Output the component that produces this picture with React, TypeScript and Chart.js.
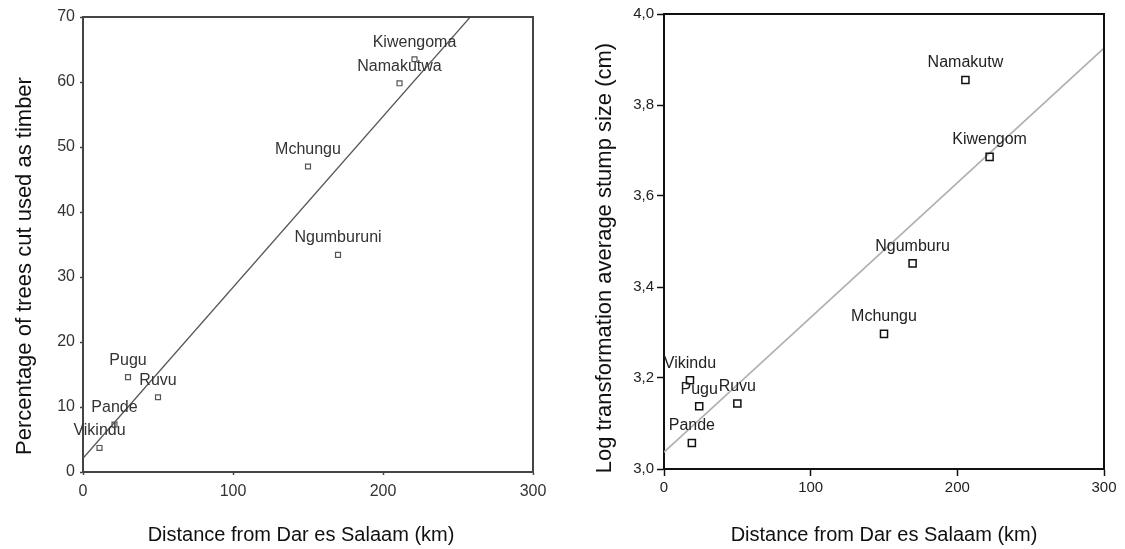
import React, { useEffect, useRef } from 'react';
import { Chart, registerables } from 'chart.js';

Chart.register(...registerables);

const FONT = '"Liberation Sans", Arial, Helvetica, sans-serif';

// ---------- Left chart data ----------
const leftSites = ['Vikindu', 'Pande', 'Pugu', 'Ruvu', 'Mchungu', 'Ngumburuni', 'Namakutwa', 'Kiwengoma'];
const leftDistance = [11, 21, 30, 50, 150, 170, 211, 221];
const leftTimberPct = [3.7, 7.3, 14.6, 11.5, 47, 33.4, 59.8, 63.5];
const leftFitX = [0, 300];
const leftFitY = [2.1, 81.0];
const leftYTicks = [0, 10, 20, 30, 40, 50, 60, 70];
const leftXTicks = [0, 100, 200, 300];
const leftXTitle = 'Distance from Dar es Salaam (km)';
const leftYTitle = 'Percentage of trees cut used as timber';

// ---------- Right chart data ----------
const rightSites = ['Vikindu', 'Pande', 'Pugu', 'Ruvu', 'Mchungu', 'Ngumburu', 'Namakutw', 'Kiwengom'];
const rightDistance = [17.7, 19, 24, 50, 150, 169.5, 205.5, 222];
const rightLogStump = [3.195, 3.057, 3.138, 3.144, 3.297, 3.452, 3.855, 3.686];
const rightFitX = [0, 300];
const rightFitY = [3.037, 3.925];
const rightYTicks = [3.0, 3.2, 3.4, 3.6, 3.8, 4.0];
const rightYTickLabels = ['3,0', '3,2', '3,4', '3,6', '3,8', '4,0'];
const rightXTicks = [0, 100, 200, 300];
const rightXTitle = 'Distance from Dar es Salaam (km)';
const rightYTitle = 'Log transformation average stump size (cm)';

type TitleItem = { text: string; x: number; y: number; rot: number; size: number };

function makePointLabels(labels: string[], font: string, color: string, offset: number) {
  return {
    id: 'pointLabels',
    afterDatasetsDraw(chart: any) {
      const meta = chart.getDatasetMeta(0);
      const ctx = chart.ctx;
      ctx.save();
      ctx.font = font;
      ctx.fillStyle = color;
      ctx.textAlign = 'center';
      ctx.textBaseline = 'middle';
      meta.data.forEach((el: any, i: number) => {
        ctx.fillText(labels[i], el.x, el.y - offset);
      });
      ctx.restore();
    },
  };
}

function makeFrame(color: string, width: number) {
  return {
    id: 'frame',
    afterDraw(chart: any) {
      const { left, top, right, bottom } = chart.chartArea;
      const ctx = chart.ctx;
      ctx.save();
      ctx.strokeStyle = color;
      ctx.lineWidth = width;
      ctx.beginPath();
      ctx.moveTo(left, top);
      ctx.lineTo(right, top);
      ctx.lineTo(right, bottom);
      ctx.stroke();
      ctx.restore();
    },
  };
}

function makeTitles(items: TitleItem[], color: string) {
  return {
    id: 'axisTitles',
    afterDraw(chart: any) {
      const ctx = chart.ctx;
      items.forEach((it) => {
        ctx.save();
        ctx.translate(it.x, it.y);
        ctx.rotate(it.rot);
        ctx.font = `${it.size}px ${FONT}`;
        ctx.fillStyle = color;
        ctx.textAlign = 'center';
        ctx.textBaseline = 'middle';
        ctx.fillText(it.text, 0, 0);
        ctx.restore();
      });
    },
  };
}

function buildConfig(p: {
  sites: string[];
  xs: number[];
  ys: number[];
  fitX: number[];
  fitY: number[];
  xTicks: number[];
  yTicks: number[];
  yTickLabels: string[];
  yMin: number;
  yMax: number;
  axisColor: string;
  tickColor: string;
  lineColor: string;
  lineWidth: number;
  pointColor: string;
  pointRadius: number;
  pointBorder: number;
  yWidth: number;
  xHeight: number;
  padTop: number;
  padRight: number;
  tickLen: number;
  xPad: number;
  yPad: number;
  tickFont: number;
  labelFont: string;
  labelColor: string;
  titles: TitleItem[];
}): any {
  return {
    type: 'scatter',
    data: {
      datasets: [
        {
          type: 'scatter',
          data: p.xs.map((x, i) => ({ x, y: p.ys[i] })),
          pointStyle: 'rect',
          pointRadius: p.pointRadius,
          backgroundColor: 'rgba(255,255,255,0)',
          borderColor: p.pointColor,
          borderWidth: p.pointBorder,
        },
        {
          type: 'line',
          data: p.fitX.map((x, i) => ({ x, y: p.fitY[i] })),
          borderColor: p.lineColor,
          borderWidth: p.lineWidth,
          pointRadius: 0,
          fill: false,
          tension: 0,
        },
      ],
    },
    options: {
      animation: false,
      responsive: false,
      maintainAspectRatio: false,
      events: [],
      layout: { padding: { left: 0, top: p.padTop, right: p.padRight, bottom: 0 } },
      plugins: { legend: { display: false }, tooltip: { enabled: false } },
      scales: {
        x: {
          type: 'linear',
          min: 0,
          max: 300,
          afterBuildTicks: (s: any) => {
            s.ticks = p.xTicks.map((v) => ({ value: v }));
          },
          afterFit: (s: any) => {
            s.height = p.xHeight;
          },
          ticks: {
            font: { family: FONT, size: p.tickFont },
            color: p.tickColor,
            padding: p.xPad,
            maxRotation: 0,
            callback: (v: any) => String(v),
          },
          grid: { drawOnChartArea: false, tickLength: p.tickLen, color: p.axisColor, tickWidth: 1.5 },
          border: { color: p.axisColor, width: 2 },
        },
        y: {
          type: 'linear',
          min: p.yMin,
          max: p.yMax,
          afterBuildTicks: (s: any) => {
            s.ticks = p.yTicks.map((v) => ({ value: v }));
          },
          afterFit: (s: any) => {
            s.width = p.yWidth;
          },
          ticks: {
            font: { family: FONT, size: p.tickFont },
            color: p.tickColor,
            padding: p.yPad,
            callback: (_v: any, i: number) => p.yTickLabels[i],
          },
          grid: { drawOnChartArea: false, tickLength: p.tickLen, color: p.axisColor, tickWidth: 1.5 },
          border: { color: p.axisColor, width: 2 },
        },
      },
    },
    plugins: [
      makeFrame(p.axisColor, 2),
      makePointLabels(p.sites, p.labelFont, p.labelColor, 17),
      makeTitles(p.titles, '#111'),
    ],
  };
}

function ChartCanvas({ config, width, height, left }: { config: any; width: number; height: number; left: number }) {
  const ref = useRef<HTMLCanvasElement | null>(null);
  useEffect(() => {
    if (!ref.current) return;
    const chart = new Chart(ref.current, config);
    return () => chart.destroy();
  }, []);
  return (
    <canvas
      ref={ref}
      width={width}
      height={height}
      style={{ position: 'absolute', left, top: 0, width, height }}
    />
  );
}

export default function App() {
  const leftConfig = buildConfig({
    sites: leftSites,
    xs: leftDistance,
    ys: leftTimberPct,
    fitX: leftFitX,
    fitY: leftFitY,
    xTicks: leftXTicks,
    yTicks: leftYTicks,
    yTickLabels: leftYTicks.map((v) => String(v)),
    yMin: 0,
    yMax: 70,
    axisColor: '#444',
    tickColor: '#333',
    lineColor: '#555',
    lineWidth: 1.3,
    pointColor: '#555',
    pointRadius: 3.5,
    pointBorder: 1.2,
    yWidth: 83,
    xHeight: 77,
    padTop: 17,
    padRight: 29,
    tickLen: 3,
    xPad: 7,
    yPad: 5,
    tickFont: 16,
    labelFont: `16px ${FONT}`,
    labelColor: '#333',
    titles: [
      { text: leftYTitle, x: 25, y: 266, rot: -Math.PI / 2, size: 22 },
      { text: leftXTitle, x: 301, y: 535, rot: 0, size: 20 },
    ],
  });
  const rightConfig = buildConfig({
    sites: rightSites,
    xs: rightDistance,
    ys: rightLogStump,
    fitX: rightFitX,
    fitY: rightFitY,
    xTicks: rightXTicks,
    yTicks: rightYTicks,
    yTickLabels: rightYTickLabels,
    yMin: 3.0,
    yMax: 4.0,
    axisColor: '#111',
    tickColor: '#222',
    lineColor: '#b0b0b0',
    lineWidth: 1.8,
    pointColor: '#111',
    pointRadius: 5,
    pointBorder: 1.5,
    yWidth: 102,
    xHeight: 80,
    padTop: 14,
    padRight: 21,
    tickLen: 7,
    xPad: 3,
    yPad: 3,
    tickFont: 15,
    labelFont: `16px ${FONT}`,
    labelColor: '#222',
    titles: [
      { text: rightYTitle, x: 43, y: 258, rot: -Math.PI / 2, size: 22 },
      { text: rightXTitle, x: 322, y: 535, rot: 0, size: 20 },
    ],
  });
  return (
    <div style={{ position: 'fixed', left: 0, top: 0, width: 1125, height: 549, background: '#fff' }}>
      <ChartCanvas config={leftConfig} width={562} height={549} left={0} />
      <ChartCanvas config={rightConfig} width={563} height={549} left={562} />
    </div>
  );
}
